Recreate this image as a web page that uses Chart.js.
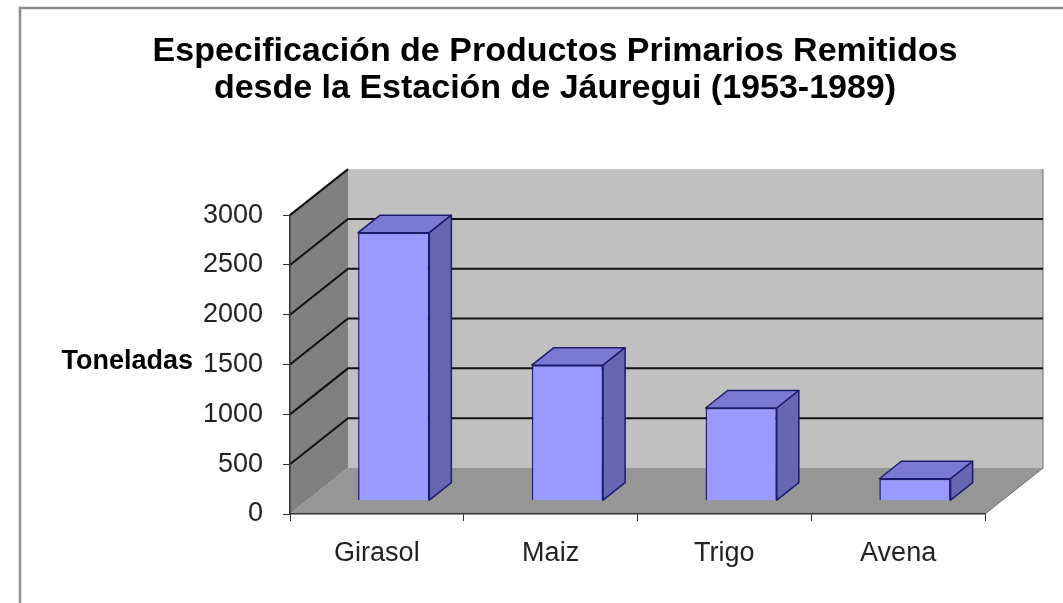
<!DOCTYPE html>
<html>
<head>
<meta charset="utf-8">
<script src="https://cdn.jsdelivr.net/npm/chart.js@4/dist/chart.umd.min.js"></script>
<style>
  html, body { margin: 0; padding: 0; background: #fff; }
  #wrap { width: 1063px; height: 603px; }
</style>
</head>
<body>
<div id="wrap"><canvas id="myChart" width="1063" height="603"></canvas></div>
<script>
var categories = ['Girasol', 'Maiz', 'Trigo', 'Avena'];
var toneladas = [2690, 1360, 930, 220];
var titleLines = ['Especificación de Productos Primarios Remitidos', 'desde la Estación de Jáuregui (1953-1989)'];
var axisLabel = 'Toneladas';

// 3d look: depth of the walls and where the bars sit inside it
var DX = 58, DY = -46;
var gapFrac = 0.29, barFrac = 0.38;

var walls3d = {
  id: 'walls3d',
  beforeDraw: function(chart) {
    var c = chart.ctx, a = chart.chartArea, y = chart.scales.y;
    c.save();
    c.fillStyle = '#fff';
    c.fillRect(0, 0, chart.width, chart.height);
    // outer frame
    c.strokeStyle = '#8c8c8c';
    c.lineWidth = 2.5;
    c.beginPath();
    c.moveTo(20, chart.height + 2);
    c.lineTo(20, 8);
    c.lineTo(chart.width + 2, 8);
    c.stroke();

    // back wall
    c.fillStyle = '#c0c0c0';
    c.fillRect(a.left + DX, a.top + DY, a.right - a.left, a.bottom - a.top);
    // left wall
    c.fillStyle = '#808080';
    c.beginPath();
    c.moveTo(a.left, a.top);
    c.lineTo(a.left + DX, a.top + DY);
    c.lineTo(a.left + DX, a.bottom + DY);
    c.lineTo(a.left, a.bottom);
    c.closePath();
    c.fill();
    // floor
    c.fillStyle = '#969696';
    c.beginPath();
    c.moveTo(a.left, a.bottom);
    c.lineTo(a.left + DX, a.bottom + DY);
    c.lineTo(a.right + DX, a.bottom + DY);
    c.lineTo(a.right, a.bottom);
    c.closePath();
    c.fill();
    c.strokeStyle = '#6e6e6e';
    c.lineWidth = 1;
    c.beginPath();
    c.moveTo(a.right, a.bottom);
    c.lineTo(a.right + DX, a.bottom + DY);
    c.lineTo(a.right + DX, a.top + DY);
    c.stroke();

    // gridlines
    c.strokeStyle = '#111';
    c.lineWidth = 2;
    y.ticks.forEach(function(t) {
      if (t.value === 0) return;
      var py = y.getPixelForValue(t.value);
      c.beginPath();
      c.moveTo(a.left, py);
      c.lineTo(a.left + DX, py + DY);
      if (t.value < y.max) c.lineTo(a.right + DX, py + DY);
      c.stroke();
    });

    // axis title, written level
    c.fillStyle = '#000';
    c.font = 'bold 27px "Liberation Sans", Arial, sans-serif';
    c.textAlign = 'right';
    c.textBaseline = 'middle';
    c.fillText(axisLabel, 193, 362);
    c.restore();
  },
  beforeDatasetsDraw: function(chart) {
    chart.ctx.save();
    chart.ctx.translate(DX * gapFrac, DY * gapFrac);
  },
  afterDatasetsDraw: function(chart) {
    var c = chart.ctx;
    var bx = DX * barFrac, by = DY * barFrac;
    c.lineWidth = 1.5;
    c.strokeStyle = '#1c1c6e';
    c.lineJoin = 'round';
    chart.getDatasetMeta(0).data.forEach(function(bar) {
      var l = bar.x - bar.width / 2, r = bar.x + bar.width / 2;
      c.fillStyle = '#7a7ad2';
      c.beginPath();
      c.moveTo(l, bar.y);
      c.lineTo(l + bx, bar.y + by);
      c.lineTo(r + bx, bar.y + by);
      c.lineTo(r, bar.y);
      c.closePath();
      c.fill();
      c.stroke();
      c.fillStyle = '#6666b3';
      c.beginPath();
      c.moveTo(r, bar.y);
      c.lineTo(r + bx, bar.y + by);
      c.lineTo(r + bx, bar.base + by);
      c.lineTo(r, bar.base);
      c.closePath();
      c.fill();
      c.stroke();
    });
    c.restore();
  }
};

const ctx = document.getElementById('myChart').getContext('2d');
const myChart = new Chart(ctx, {
  type: 'bar',
  data: {
    labels: categories,
    datasets: [
      {
        label: axisLabel,
        data: toneladas,
        backgroundColor: '#9999ff',
        borderColor: '#1c1c6e',
        borderWidth: 1.5,
        barPercentage: 0.41,
        categoryPercentage: 1,
        clip: false
      }
    ]
  },
  options: {
    responsive: false,
    animation: false,
    layout: { padding: { left: 125, right: 78, top: 0, bottom: 0 } },
    plugins: {
      legend: { display: false },
      tooltip: { enabled: false },
      title: {
        display: true,
        text: titleLines,
        color: '#000',
        font: { family: '"Liberation Sans", Arial, sans-serif', size: 34, weight: 'bold', lineHeight: 1.09 },
        padding: { top: 33, bottom: 108 }
      }
    },
    scales: {
      x: {
        grid: { drawOnChartArea: false, tickLength: 7, color: '#333' },
        border: { color: '#333', width: 1.5 },
        ticks: { color: '#222', padding: 16, font: { family: '"Liberation Sans", Arial, sans-serif', size: 27 } },
        afterFit: function(s) { s.height = 89; }
      },
      y: {
        min: 0,
        max: 3000,
        ticks: {
          stepSize: 500,
          color: '#222',
          padding: 20,
          font: { family: '"Liberation Sans", Arial, sans-serif', size: 27 },
          callback: function(v) { return String(v); }
        },
        grid: { drawOnChartArea: false, tickLength: 7, color: '#333' },
        border: { color: '#333', width: 1.5 },
        afterFit: function(s) { s.width = 165; }
      }
    }
  },
  plugins: [walls3d]
});
</script>
</body>
</html>
